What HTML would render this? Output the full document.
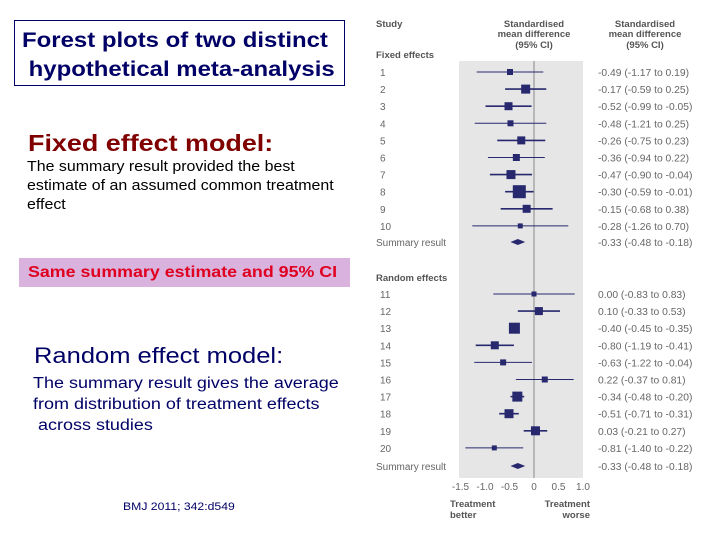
<!DOCTYPE html>
<html><head><meta charset="utf-8">
<style>
body{margin:0;width:720px;height:540px;background:#fff;position:relative;overflow:hidden;font-family:"Liberation Sans",sans-serif}
.a{position:absolute;white-space:nowrap;transform-origin:0 0}
</style></head><body>
<div class="a" style="left:14px;top:20px;width:329px;height:64px;border:1.5px solid #000066;"></div>
<div class="a" style="left:22px;top:26px;font-size:21px;font-weight:bold;color:#000066;line-height:29px;transform:scaleX(1.14)">Forest plots of two distinct<br>&nbsp;hypothetical meta-analysis</div>
<div class="a" style="left:28px;top:130px;font-size:23px;font-weight:bold;color:#800000;transform:scaleX(1.17)">Fixed effect model:</div>
<div class="a" style="left:27px;top:158px;font-size:14.5px;color:#000;line-height:19px;transform:scaleX(1.1)">The summary result provided the best<br>estimate of an assumed common treatment<br>effect</div>
<div class="a" style="left:19px;top:258px;width:331px;height:29px;background:#d9b3de"></div>
<div class="a" style="left:28px;top:264px;font-size:15.5px;font-weight:bold;color:#e00020;transform:scaleX(1.15)">Same summary estimate and 95% CI</div>
<div class="a" style="left:34px;top:343px;font-size:22px;color:#000066;transform:scaleX(1.16)">Random effect model:</div>
<div class="a" style="left:33px;top:373px;font-size:15.5px;color:#000066;line-height:21px;transform:scaleX(1.16)">The summary result gives the average<br>from distribution of treatment effects<br>&nbsp;across studies</div>
<div class="a" style="left:123px;top:501px;font-size:11px;color:#000066;transform:scaleX(1.11)">BMJ 2011; 342:d549</div>

<svg class="a" style="left:0;top:0" width="720" height="540">
<g id="g" font-family="Liberation Sans, sans-serif"></g>
</svg>
<script>
const fixedLabels=['1','2','3','4','5','6','7','8','9','10'];
const fixedEst=[-0.49,-0.17,-0.52,-0.48,-0.26,-0.36,-0.47,-0.30,-0.15,-0.28];
const fixedLo=[-1.17,-0.59,-0.99,-1.21,-0.75,-0.94,-0.90,-0.59,-0.68,-1.26];
const fixedHi=[0.19,0.25,-0.05,0.25,0.23,0.22,-0.04,-0.01,0.38,0.70];
const fixedWeight=[6,9,8,6,8,7,9,13,8,5];
const randLabels=['11','12','13','14','15','16','17','18','19','20'];
const randEst=[0.00,0.10,-0.40,-0.80,-0.63,0.22,-0.34,-0.51,0.03,-0.81];
const randLo=[-0.83,-0.33,-0.45,-1.19,-1.22,-0.37,-0.48,-0.71,-0.21,-1.40];
const randHi=[0.83,0.53,-0.35,-0.41,-0.04,0.81,-0.20,-0.31,0.27,-0.22];
const randWeight=[5,8,11,8,6,6,10,9,9,5];
const summaryEst=[-0.33,-0.33];
const summaryLo=[-0.48,-0.48];
const summaryHi=[-0.18,-0.18];
const ticks=[-1.5,-1.0,-0.5,0,0.5,1.0];
const tickLabels=['-1.5','-1.0','-0.5','0','0.5','1.0'];

const g=document.getElementById('g');
const X=v=>534+v*49;
const NS='http://www.w3.org/2000/svg';
function el(t,a,txt){const e=document.createElementNS(NS,t);for(const k in a)e.setAttribute(k,a[k]);if(txt!=null)e.textContent=txt;g.appendChild(e);return e;}
const fmt=v=>v.toFixed(2).replace('-0.00','0.00');
let e;
e=el('rect',{x:459,y:61,width:124,height:417,fill:'#e6e6e6'});


e=el('line',{x1:X(0),x2:X(0),y1:61,y2:478,stroke:'#888','stroke-width':1});


const hdr={fill:'#555','font-size':9.5,'font-weight':'bold'};
e=el('text',Object.assign({x:376,y:27},hdr),'Study');


[['Standardised',27],['mean difference',37],['(95% CI)',48]].forEach(([t,y])=>{
 e=el('text',Object.assign({x:534,y:y,'text-anchor':'middle'},hdr),t);
 
 
 e=el('text',Object.assign({x:645,y:y,'text-anchor':'middle'},hdr),t);
 
 
});
e=el('text',Object.assign({x:376,y:58},hdr),'Fixed effects');


e=el('text',Object.assign({x:376,y:281},hdr),'Random effects');


function rows(labels,est,lo,hi,w,y0,step){
 labels.forEach((l,i)=>{
  const y=y0+i*step;
  e=el('text',{x:380,y:y+4,fill:'#666','font-size':10},l);
  
  
  e=el('line',{x1:X(lo[i]),x2:X(hi[i]),y1:y,y2:y,stroke:'#27286e','stroke-width':w[i]>=8?1.6:1});
  
  
  e=el('rect',{x:X(est[i])-w[i]/2,y:y-w[i]/2,width:w[i],height:w[i],fill:'#27286e'});
  
  
  e=el('text',{x:598,y:y+4,fill:'#666','font-size':10.3},fmt(est[i])+' ('+fmt(lo[i])+' to '+fmt(hi[i])+')');
  
  
 });
}
rows(fixedLabels,fixedEst,fixedLo,fixedHi,fixedWeight,72,17.1);
rows(randLabels,randEst,randLo,randHi,randWeight,294,17.1);
[242,466].forEach((y,i)=>{
 e=el('text',{x:376,y:y+4,fill:'#666','font-size':10},'Summary result');
 
 
 e=el('polygon',{points:`${X(summaryLo[i])},${y} ${X(summaryEst[i])},${y-3} ${X(summaryHi[i])},${y} ${X(summaryEst[i])},${y+3}`,fill:'#27286e'});
 
 
 e=el('text',{x:598,y:y+4,fill:'#666','font-size':10.3},fmt(summaryEst[i])+' ('+fmt(summaryLo[i])+' to '+fmt(summaryHi[i])+')');
 
 
});
ticks.forEach((t,i)=>{
 e=el('text',{x:X(t),y:490,fill:'#666','font-size':10,'text-anchor':'middle'},tickLabels[i]);
 
 
});
[['Treatment',450,507,'start'],['better',450,518,'start'],['Treatment',590,507,'end'],['worse',590,518,'end']].forEach(([t,x,y,a])=>{
 e=el('text',Object.assign({x:x,y:y,'text-anchor':a},hdr),t);
 
 
});
</script>
</body></html>
